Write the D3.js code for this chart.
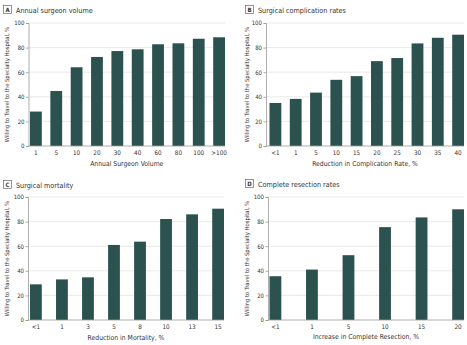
<!DOCTYPE html>
<html>
<head>
<meta charset="utf-8">
<script src="https://cdn.jsdelivr.net/npm/d3@7"></script>
<style>
  body { margin: 0; background: #fff; }
  svg text { font-family: "Liberation Sans Narrow", "DejaVu Sans Condensed", "Liberation Sans", sans-serif; fill: #333; }
</style>
</head>
<body>
<div id="content"></div>
<script>
// values
const volumeLabels = ["1", "5", "10", "20", "30", "40", "60", "80", "100", ">100"];
const volumeValues = [28, 44.7, 64, 72.4, 77.2, 78.6, 82.7, 83.5, 87.2, 88.4];

const complicationLabels = ["<1", "1", "5", "10", "15", "20", "25", "30", "35", "40"];
const complicationValues = [35, 38.3, 43.4, 53.8, 56.8, 69, 71.5, 83.4, 88, 90.5];

const mortalityLabels = ["<1", "1", "3", "5", "8", "10", "13", "15"];
const mortalityValues = [29, 33, 34.7, 61, 63.7, 82.1, 85.9, 90.5];

const resectionLabels = ["<1", "1", "5", "10", "15", "20"];
const resectionValues = [35.6, 41, 52.7, 75.5, 83.4, 90];

const yTicks = [0, 20, 40, 60, 80, 100];
const yTitle = "Willing to Travel to the Specialty Hospital, %";

const panels = [
  { letter: "A", title: "Annual surgeon volume", xTitle: "Annual Surgeon Volume",
    labels: volumeLabels, values: volumeValues,
    boxX: 3, titleY: 10, axisX: 28.5, left: 30, right: 225, top: 23, bottom: 146, yTitleX: 7, xTitleY: 165.5 },
  { letter: "B", title: "Surgical complication rates", xTitle: "Reduction in Complication Rate, %",
    labels: complicationLabels, values: complicationValues,
    boxX: 245, titleY: 10, axisX: 266, left: 269.5, right: 464, top: 23, bottom: 146, yTitleX: 247, xTitleY: 165.5 },
  { letter: "C", title: "Surgical mortality", xTitle: "Reduction in Mortality, %",
    labels: mortalityLabels, values: mortalityValues,
    boxX: 3, titleY: 185, axisX: 28, left: 30, right: 224, top: 197, bottom: 320, yTitleX: 7, xTitleY: 339.5 },
  { letter: "D", title: "Complete resection rates", xTitle: "Increase in Complete Resection, %",
    labels: resectionLabels, values: resectionValues,
    boxX: 245, titleY: 184, axisX: 268, left: 269.5, right: 464, top: 197, bottom: 320, yTitleX: 247, xTitleY: 338.5 }
];

const width = 467;
const height = 345;
const barWidth = 11.8;
const barColor = "#2b524f";

const canvas = d3.select("#content")
    .append("svg")
    .attr("width", width)
    .attr("height", height);

panels.forEach(p => {
    const g = canvas.append("g");
    const n = p.labels.length;
    const span = p.right - p.left;
    const padInner = (span - n * barWidth) / (span - barWidth);

    const xScale = d3.scaleBand()
        .domain(p.labels)
        .range([p.left, p.right])
        .paddingInner(padInner)
        .paddingOuter(0);
    const yScale = d3.scaleLinear()
        .domain([0, 100])
        .range([p.bottom, p.top]);

    // panel heading
    g.append("rect")
        .attr("x", p.boxX + 0.5)
        .attr("y", p.titleY - 4.5)
        .attr("width", 8)
        .attr("height", 8)
        .attr("fill", "none")
        .attr("stroke", "#666")
        .attr("stroke-width", 0.7);
    g.append("text")
        .attr("x", p.boxX + 4.5)
        .attr("y", p.titleY + 2.3)
        .attr("text-anchor", "middle")
        .style("font-size", "6px")
        .style("font-weight", "bold")
        .text(p.letter);
    g.append("text")
        .attr("x", p.boxX + 13)
        .attr("y", p.titleY + 2.6)
        .style("font-size", "7.2px")
        .text(p.title);

    // gridlines
    g.append("g")
        .selectAll("line")
        .data(yTicks.filter(d => d > 0))
        .enter()
        .append("line")
        .attr("x1", p.axisX)
        .attr("x2", p.right)
        .attr("y1", d => yScale(d))
        .attr("y2", d => yScale(d))
        .attr("stroke", "#e3e3e3")
        .attr("stroke-width", 0.8);

    // bars
    g.append("g")
        .selectAll("rect")
        .data(p.values)
        .enter()
        .append("rect")
        .attr("x", (d, i) => xScale(p.labels[i]))
        .attr("y", d => yScale(d))
        .attr("width", xScale.bandwidth())
        .attr("height", d => yScale(0) - yScale(d))
        .attr("fill", barColor);

    // y axis
    const yAxis = d3.axisLeft(yScale)
        .tickValues(yTicks)
        .tickSize(2.5)
        .tickPadding(1.5);
    const ya = g.append("g")
        .attr("transform", `translate(${p.axisX}, 0)`)
        .call(yAxis);
    ya.select(".domain").attr("stroke", "#999").attr("stroke-width", 0.8);
    ya.selectAll(".tick line").attr("stroke", "#999").attr("stroke-width", 0.8);
    ya.selectAll(".tick text").style("font-size", "6px").attr("fill", "#333");

    // x axis
    const xAxis = d3.axisBottom(xScale)
        .tickSize(0)
        .tickPadding(5);
    const xa = g.append("g")
        .attr("transform", `translate(0, ${p.bottom})`)
        .call(xAxis);
    xa.select(".domain")
        .attr("d", `M${p.axisX},0H${p.right}`)
        .attr("stroke", "#999")
        .attr("stroke-width", 0.8);
    xa.selectAll(".tick text").style("font-size", "6.3px").attr("fill", "#333");

    // axis titles
    g.append("text")
        .attr("transform", `translate(${p.yTitleX + 2}, ${(p.top + p.bottom) / 2}) rotate(-90)`)
        .attr("text-anchor", "middle")
        .style("font-size", "5.8px")
        .text(yTitle);
    g.append("text")
        .attr("x", (p.axisX + p.right) / 2)
        .attr("y", p.xTitleY)
        .attr("text-anchor", "middle")
        .style("font-size", "6.8px")
        .text(p.xTitle);
});
</script>
</body>
</html>
